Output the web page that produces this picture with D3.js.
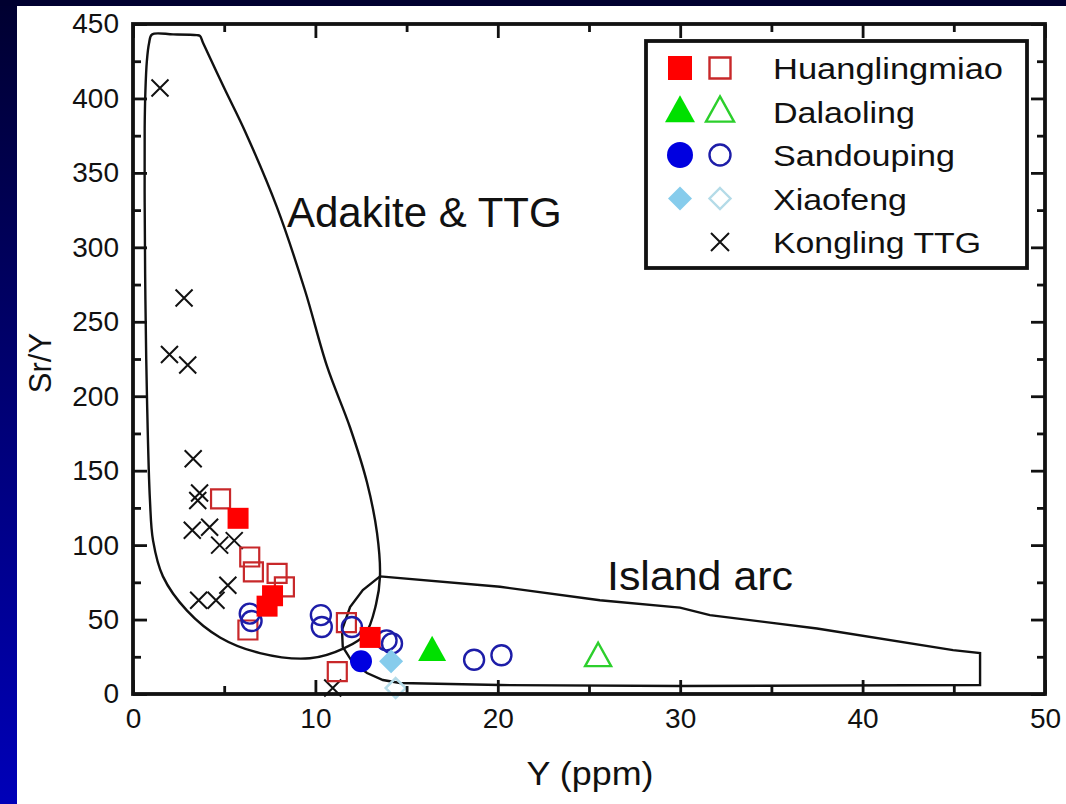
<!DOCTYPE html>
<html>
<head>
<meta charset="utf-8">
<script src="https://cdn.jsdelivr.net/npm/d3@7"></script>
<style>
  body { margin: 0; background: #fff; }
  svg { display: block; }
  text { font-family: "Liberation Sans", Arial, sans-serif; fill: #111; }
</style>
</head>
<body>
<svg id="chart" width="1066" height="804"></svg>
<script>
// Y (ppm) vs Sr/Y for each pluton; filled and open symbols are the two sample groups
const huanglingmiaoFilled = [[5.76, 118], [7.65, 66], [7.35, 59], [13.0, 38]];
const huanglingmiaoOpen = [[4.8, 131], [6.4, 92], [6.6, 82], [7.9, 81], [8.3, 72], [6.3, 43], [11.7, 48], [11.2, 15]];
const dalaolingFilled = [[16.4, 29]];
const dalaolingOpen = [[25.5, 25]];
const sandoupingFilled = [[12.5, 22]];
const sandoupingOpen = [[6.4, 54], [6.5, 49], [10.3, 53], [10.35, 45], [12.0, 45], [13.9, 36], [14.2, 34], [18.7, 23], [20.2, 26]];
const xiaofengFilled = [[14.15, 22]];
const xiaofengOpen = [[14.4, 4]];
const konglingTTG = [[1.48, 407], [2.8, 266], [2.0, 228], [3.0, 221], [3.3, 158], [3.65, 135], [3.55, 130],
  [3.25, 110], [4.2, 112], [4.75, 100], [5.55, 103], [5.2, 73], [3.6, 63], [4.55, 63], [10.95, 4]];

// Discrimination fields
const adakiteField = [[0.64, 380], [0.68, 405], [0.76, 425], [0.88, 437], [1.04, 443], [2.2, 443], [3.5, 442.5],
  [3.67, 442], [3.85, 437], [5.0, 407], [6.14, 378], [7.89, 327], [9.43, 271],
  [10.64, 220], [11.9, 179], [12.83, 142], [13.38, 108], [13.54, 79], [13.32, 60], [12.72, 40], [11.62, 31],
  [9.7, 24], [6.96, 27.5], [4.77, 38], [2.96, 56], [1.64, 79], [1.1, 103], [0.93, 130], [0.77, 197], [0.68, 265], [0.64, 330]];
const islandArcField = [[13.54, 79], [20.12, 72], [25.6, 63], [29.99, 58], [31.63, 53], [37.5, 44], [44.96, 29.5],
  [46.44, 27.5], [46.44, 6], [29.99, 5.4], [20.12, 6], [14.64, 7.4], [13.7, 9.4], [12.83, 14.1], [12.06, 20.8],
  [11.5, 31.6], [11.46, 43], [11.9, 58.4], [12.6, 69.8]];

const xMajorTicks = [0, 10, 20, 30, 40, 50];
const xMinorTicks = [5, 15, 25, 35, 45];
const yMajorTicks = [0, 50, 100, 150, 200, 250, 300, 350, 400, 450];
const yMinorTicks = [25, 75, 125, 175, 225, 275, 325, 375, 425];

const legendItems = [
  { name: "Huanglingmiao", shape: "square", fill: "#ff0000", stroke: "#c8282a" },
  { name: "Dalaoling", shape: "triangle", fill: "#00e000", stroke: "#2ccf2c" },
  { name: "Sandouping", shape: "circle", fill: "#0000e0", stroke: "#1d1da8" },
  { name: "Xiaofeng", shape: "diamond", fill: "#86ccec", stroke: "#b4dbe8" },
  { name: "Kongling TTG", shape: "cross", fill: null, stroke: "#111" }
];

const svg = d3.select("#chart");
const W = 1066, H = 804;

// Page backdrop: dark navy strip on top, blue gradient strip on the left
const defs = svg.append("defs");
const grad = defs.append("linearGradient").attr("id", "sideBand")
  .attr("x1", 0).attr("y1", 0).attr("x2", 0).attr("y2", 1);
grad.append("stop").attr("offset", "0%").attr("stop-color", "#000030");
grad.append("stop").attr("offset", "100%").attr("stop-color", "#0000b8");
svg.append("rect").attr("x", 0).attr("y", 0).attr("width", W).attr("height", H).attr("fill", "#fff");
svg.append("rect").attr("x", 0).attr("y", 0).attr("width", 17).attr("height", H).attr("fill", "url(#sideBand)");
svg.append("rect").attr("x", 0).attr("y", 0).attr("width", W).attr("height", 6).attr("fill", "#000030");

const x = d3.scaleLinear().domain([0, 50]).range([133, 1045]);
const y = d3.scaleLinear().domain([0, 450]).range([694, 24]);

const symbolPath = (shape, size) => {
  const s = size;
  if (shape === "square") return `M${-s/2},${-s/2}h${s}v${s}h${-s}Z`;
  if (shape === "triangle") { const h = s * 0.9; return `M0,${-h*0.6}L${s/2},${h*0.4}L${-s/2},${h*0.4}Z`; }
  if (shape === "circle") { const r = s/2; return `M${r},0A${r},${r} 0 1,1 ${-r},0A${r},${r} 0 1,1 ${r},0Z`; }
  if (shape === "diamond") { const r = s/2; return `M0,${-r}L${r},0L0,${r}L${-r},0Z`; }
  if (shape === "cross") { const r = s/2; return `M${-r},${-r}L${r},${r}M${r},${-r}L${-r},${r}`; }
};

// Field outlines
const line = d3.line().x(d => x(d[0])).y(d => y(d[1])).curve(d3.curveCatmullRomClosed.alpha(0.5));
const arcLine = d3.line().x(d => x(d[0])).y(d => y(d[1])).curve(d3.curveLinearClosed);
svg.append("path").attr("d", line(adakiteField)).attr("fill", "none").attr("stroke", "#111").attr("stroke-width", 2.4);
svg.append("path").attr("d", arcLine(islandArcField)).attr("fill", "none").attr("stroke", "#111").attr("stroke-width", 2.4);

svg.append("text").attr("x", 287).attr("y", 227).attr("font-size", 42).text("Adakite & TTG");
svg.append("text").attr("x", 607).attr("y", 590).attr("font-size", 40)
  .attr("textLength", 186).attr("lengthAdjust", "spacingAndGlyphs").text("Island arc");

// Data points
const plot = svg.append("g");
function drawSeries(data, shape, size, fill, stroke, sw) {
  plot.selectAll(null).data(data).enter().append("path")
    .attr("transform", d => `translate(${x(d[0])},${y(d[1])})`)
    .attr("d", symbolPath(shape, size))
    .attr("fill", fill || "none")
    .attr("stroke", stroke || "none")
    .attr("stroke-width", sw || 0);
}
drawSeries(konglingTTG, "cross", 17, null, "#111", 2);
drawSeries(huanglingmiaoOpen, "square", 19, "none", "#c8282a", 2.2);
drawSeries(sandoupingOpen, "circle", 20, "none", "#1d1da8", 2.4);
drawSeries(huanglingmiaoFilled, "square", 21, "#ff0000", null, 0);
drawSeries(sandoupingFilled, "circle", 22, "#0000e0", null, 0);
drawSeries(xiaofengFilled, "diamond", 24, "#86ccec", null, 0);
drawSeries(xiaofengOpen, "diamond", 20, "none", "#b4dbe8", 2.5);
drawSeries(dalaolingFilled, "triangle", 28, "#00e000", null, 0);
drawSeries(dalaolingOpen, "triangle", 26, "none", "#2ccf2c", 2.4);

// Axes: ticks point inward and are mirrored on top and right
function axis(gen, tx, ty, vals, size, fmt) {
  const g = svg.append("g").attr("transform", `translate(${tx},${ty})`)
    .call(gen.tickValues(vals).tickSizeInner(size).tickSizeOuter(0).tickPadding(fmt ? 14 : 0).tickFormat(fmt || (() => "")));
  g.select(".domain").remove();
  g.selectAll(".tick line").attr("stroke", "#111").attr("stroke-width", 2.8);
  g.selectAll(".tick text").attr("font-size", 28).attr("fill", "#111")
    .style("font-family", '"Liberation Sans", Arial, sans-serif');
  return g;
}
const fmt = d3.format("d");
axis(d3.axisBottom(x), 0, 694, xMajorTicks, -14, fmt);
axis(d3.axisBottom(x), 0, 694, xMinorTicks, -8);
axis(d3.axisTop(x), 0, 24, xMajorTicks, -14);
axis(d3.axisTop(x), 0, 24, xMinorTicks, -8);
axis(d3.axisLeft(y), 133, 0, yMajorTicks, -14, fmt);
axis(d3.axisLeft(y), 133, 0, yMinorTicks, -8);
axis(d3.axisRight(y), 1045, 0, yMajorTicks, -14);
axis(d3.axisRight(y), 1045, 0, yMinorTicks, -8);
svg.selectAll(".tick text").each(function () {
  const t = d3.select(this);
  if (t.attr("dy") === "0.71em") t.attr("y", 14);
});

svg.append("rect").attr("x", 133).attr("y", 24).attr("width", 1045 - 133).attr("height", 694 - 24)
  .attr("fill", "none").attr("stroke", "#111").attr("stroke-width", 3.8);

svg.append("text").attr("x", 590).attr("y", 785).attr("text-anchor", "middle").attr("font-size", 34)
  .attr("textLength", 127).attr("lengthAdjust", "spacingAndGlyphs").text("Y (ppm)");
svg.append("text").attr("transform", "translate(51,363) rotate(-90)").attr("text-anchor", "middle")
  .attr("font-size", 31).text("Sr/Y");

// Legend
const lg = svg.append("g");
lg.append("rect").attr("x", 646).attr("y", 41).attr("width", 381).attr("height", 227)
  .attr("fill", "#fff").attr("stroke", "#111").attr("stroke-width", 3.8);
const legendRow = d3.scaleLinear().domain([0, 4]).range([68, 242]);
legendItems.forEach((it, i) => {
  const cy = legendRow(i);
  if (it.fill) {
    const size = it.shape === "triangle" ? 30 : it.shape === "circle" ? 26 : 24;
    lg.append("path").attr("transform", `translate(680,${cy})`).attr("d", symbolPath(it.shape, size)).attr("fill", it.fill);
  }
  const osize = it.shape === "cross" ? 18 : it.shape === "triangle" ? 28 : 21;
  lg.append("path").attr("transform", `translate(720,${cy})`).attr("d", symbolPath(it.shape, osize))
    .attr("fill", "none").attr("stroke", it.stroke).attr("stroke-width", it.shape === "cross" ? 2 : 2.4);
  lg.append("text").attr("x", 773).attr("y", cy + 11).attr("font-size", 30)
    .attr("textLength", { "Huanglingmiao": 230, "Dalaoling": 142, "Sandouping": 182, "Xiaofeng": 134, "Kongling TTG": 208 }[it.name])
    .attr("lengthAdjust", "spacingAndGlyphs").text(it.name);
});
</script>
</body>
</html>
